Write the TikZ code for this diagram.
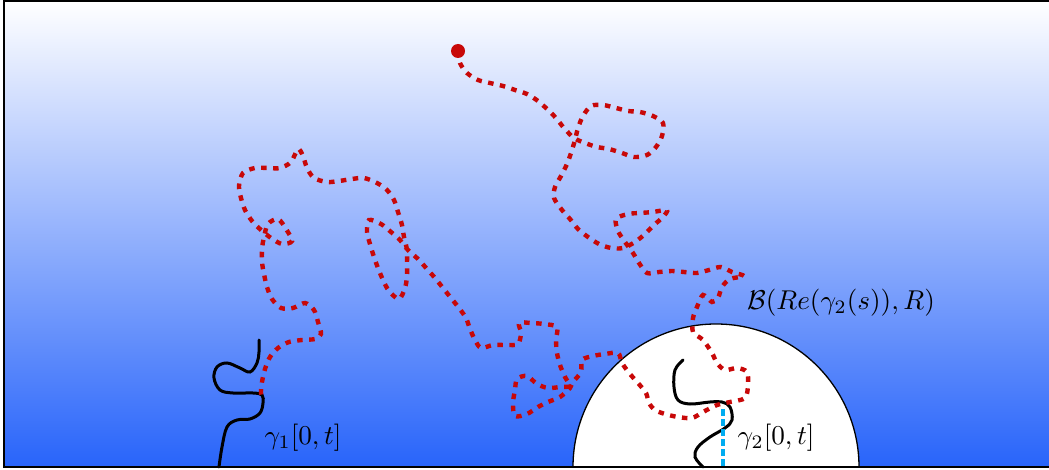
\documentclass[tikz,border=0pt]{standalone}
\definecolor{skyblue}{RGB}{40,100,250}
\definecolor{pathred}{RGB}{200,8,8}
\definecolor{cyanline}{RGB}{0,172,240}
\tikzset{
  redpath/.style={pathred, line width=4.4pt, dash pattern=on 5.5pt off 6.5pt},
  curve/.style={black, line width=3pt, line cap=round},
  lbl/.style={scale=2.72, inner sep=0pt},
}
\begin{document}
\begin{tikzpicture}[x=1pt,y=-1pt]
\useasboundingbox (0,0) rectangle (1049,470);
\shade[top color=white, bottom color=skyblue] (5,1) rectangle (1049,467);
\begin{scope}
\clip (5,1) rectangle (1049,467);
\draw[line width=1.3pt, fill=white] (716,467) circle[radius=143pt];
\end{scope}
% gamma_1
\draw[curve] plot[smooth, tension=0.6] coordinates {(219,467) (222,447) (227,427) (237,420) (250,419) (260,413) (263,403) (262,395) (253,393) (233,393) (220,390) (214,378) (217,367) (227,363) (240,368) (250,372) (257,363) (259,352) (259,340)};
% gamma_2
\draw[curve] plot[smooth, tension=0.6] coordinates {(683,360) (675,370) (674,387) (678,400) (690,404) (710,402) (722,402) (730,407) (732,420) (725,428) (710,437) (698,447) (695,457) (703,467)};
% cyan distance
\coordinate (ctop) at (723,409);
\coordinate (cbot) at (723,467);
\draw[cyanline, line width=3.5pt, dash pattern=on 7pt off 3pt] (ctop) -- (cbot);
% red path
\draw[redpath] plot[smooth, tension=0.5] coordinates {(458,51) (460,63) (467,73) (478,80) (490,83) (503,86) (515,90) (527,94) (538,101) (547,109) (556,118) (564,128) (574,138) (585,143) (597,147) (609,149) (622,153) (634,157) (647,155) (656,147) (662,136) (663,123) (653,116) (640,112) (628,111) (616,108) (603,105) (591,106) (583,116) (578,128) (575,140) (571,153) (567,164) (561,176) (555,187) (554,198) (562,210) (570,219) (578,229) (588,237) (599,244) (611,248) (623,248) (635,242) (645,234) (654,225) (663,217) (667,210) (653,212) (640,213) (628,214) (616,219) (618,231) (625,242) (633,253) (639,263) (647,273) (659,272) (672,271) (684,272) (697,273) (709,270) (721,267) (732,272) (744,276) (730,279) (722,287) (718,298) (712,302) (703,295) (697,307) (693,318) (693,332) (703,340) (712,353) (717,363) (725,370) (737,368) (747,372) (748,385) (745,398) (730,402) (717,405) (703,412) (692,418) (678,417) (665,414) (655,410) (649,403) (646,393) (638,383) (630,374) (622,363) (618,353) (605,354) (593,356) (582,360) (581,372) (573,382) (570,388) (560,397) (548,402) (538,407) (527,414) (515,416) (513,403) (515,390) (517,379) (527,376) (537,384) (548,388) (560,387) (570,386) (565,377) (560,365) (557,353) (556,340) (557,327) (544,324) (531,323) (519,323) (521,333) (518,344) (507,345) (493,345) (481,348) (475,340) (470,329) (466,318) (459,308) (451,298) (443,288) (435,278) (427,269) (418,259) (408,250) (400,240) (391,232) (381,224) (369,220) (367,232) (370,244) (374,257) (378,268) (383,280) (389,291) (399,299) (405,288) (407,276) (407,263) (407,250) (404,237) (402,225) (398,212) (394,200) (387,190) (377,183) (364,178) (352,179) (339,181) (327,182) (314,178) (307,168) (303,156) (298,149) (291,162) (280,168) (268,168) (255,168) (243,173) (239,186) (241,198) (245,210) (252,221) (261,230) (271,238) (282,244) (292,241) (286,229) (278,219) (268,224) (264,237) (262,249) (262,262) (264,274) (267,287) (272,299) (281,308) (293,308) (305,303) (314,310) (318,322) (321,334) (315,339) (302,340) (289,342) (278,348) (270,357) (265,369) (262,382) (261,393) (263,400)};
\fill[pathred] (458,51) circle[radius=7pt];
% frame
\draw[line width=2.3pt] (4.2,0) -- (4.2,468);
\draw[line width=1.5pt] (4,1.2) -- (1049,1.2);
\draw[line width=2.2pt] (4,467) -- (1049,467);
% labels
\node[lbl] (lball) at (841,303) {$\mathcal{B}(Re(\gamma_2(s)),R)$};
\node[lbl] (lg1) at (303,438) {$\gamma_1[0,t]$};
\node[lbl] (lg2) at (776,438) {$\gamma_2[0,t]$};
\end{tikzpicture}
\end{document}
